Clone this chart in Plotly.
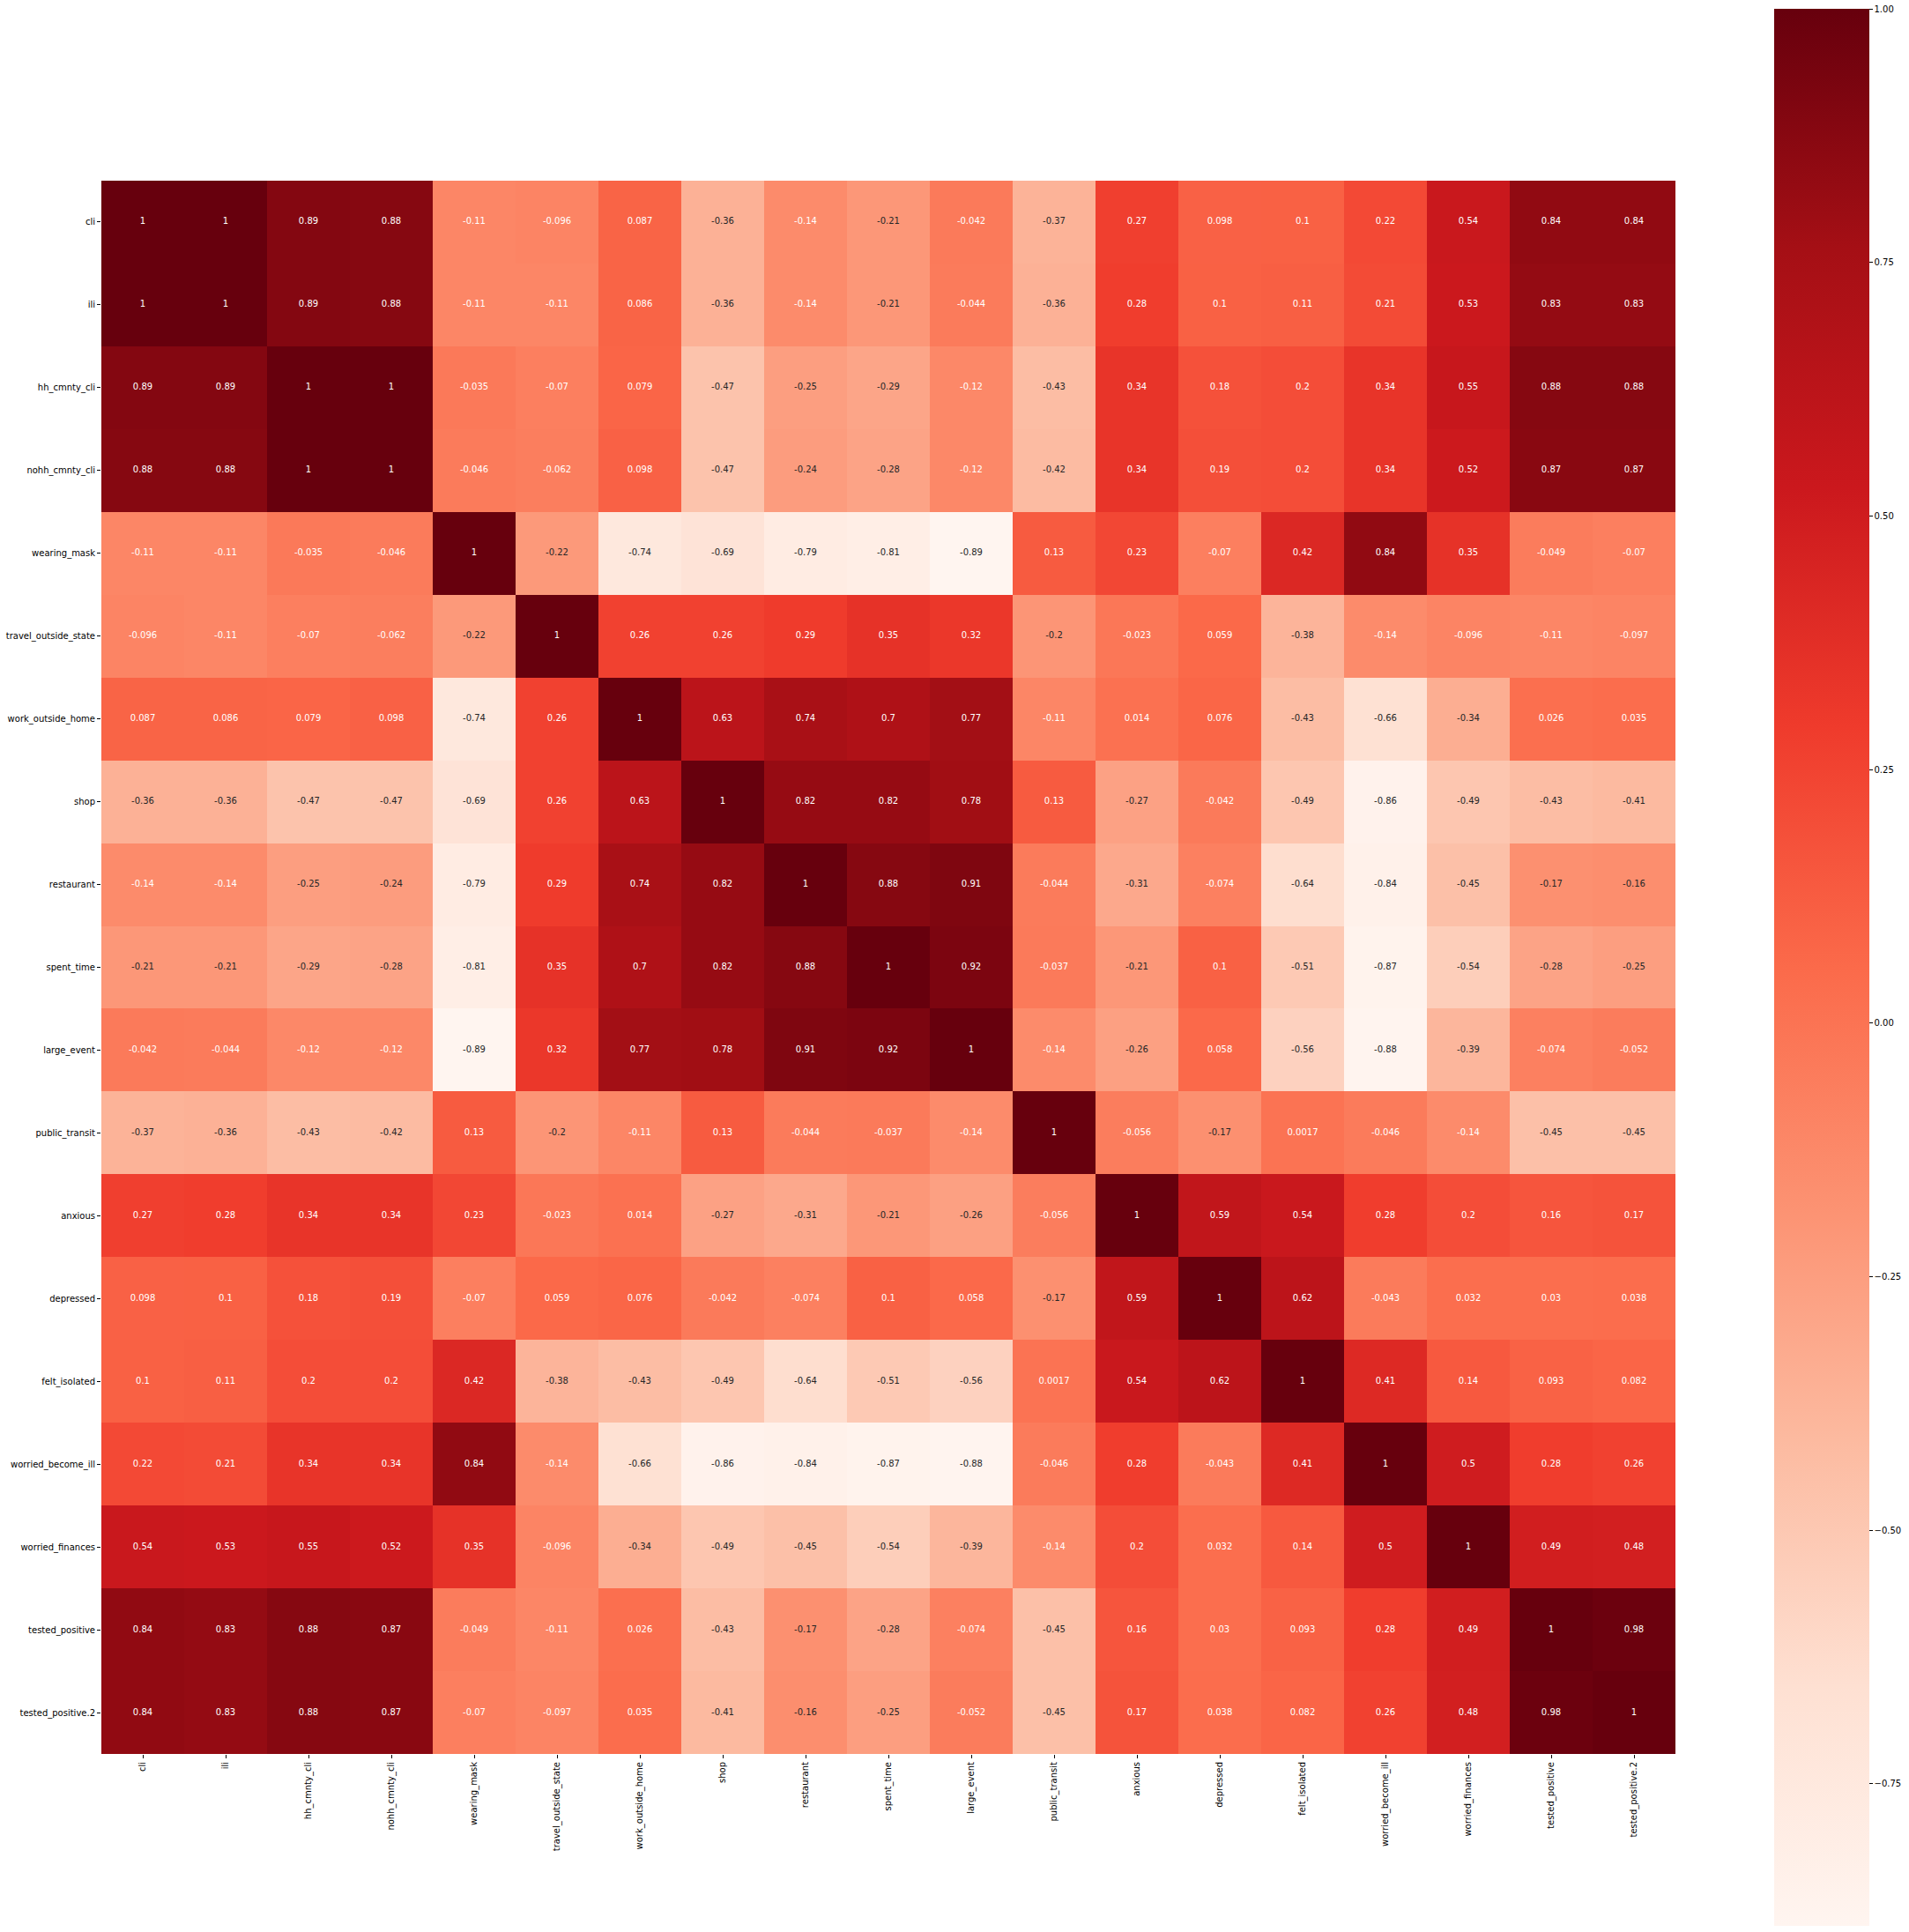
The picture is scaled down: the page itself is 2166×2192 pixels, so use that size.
import plotly.graph_objects as go
import numpy as np

labels = ["cli", "ili", "hh_cmnty_cli", "nohh_cmnty_cli", "wearing_mask", "travel_outside_state",
          "work_outside_home", "shop", "restaurant", "spent_time", "large_event", "public_transit",
          "anxious", "depressed", "felt_isolated", "worried_become_ill", "worried_finances",
          "tested_positive", "tested_positive.2"]

row_cli = [1, 1, 0.89, 0.88, -0.11, -0.096, 0.087, -0.36, -0.14, -0.21, -0.042, -0.37, 0.27, 0.098, 0.1, 0.22, 0.54, 0.84, 0.84]
row_ili = [1, 1, 0.89, 0.88, -0.11, -0.11, 0.086, -0.36, -0.14, -0.21, -0.044, -0.36, 0.28, 0.1, 0.11, 0.21, 0.53, 0.83, 0.83]
row_hh = [0.89, 0.89, 1, 1, -0.035, -0.07, 0.079, -0.47, -0.25, -0.29, -0.12, -0.43, 0.34, 0.18, 0.2, 0.34, 0.55, 0.88, 0.88]
row_nohh = [0.88, 0.88, 1, 1, -0.046, -0.062, 0.098, -0.47, -0.24, -0.28, -0.12, -0.42, 0.34, 0.19, 0.2, 0.34, 0.52, 0.87, 0.87]
row_mask = [-0.11, -0.11, -0.035, -0.046, 1, -0.22, -0.74, -0.69, -0.79, -0.81, -0.89, 0.13, 0.23, -0.07, 0.42, 0.84, 0.35, -0.049, -0.07]
row_travel = [-0.096, -0.11, -0.07, -0.062, -0.22, 1, 0.26, 0.26, 0.29, 0.35, 0.32, -0.2, -0.023, 0.059, -0.38, -0.14, -0.096, -0.11, -0.097]
row_work = [0.087, 0.086, 0.079, 0.098, -0.74, 0.26, 1, 0.63, 0.74, 0.7, 0.77, -0.11, 0.014, 0.076, -0.43, -0.66, -0.34, 0.026, 0.035]
row_shop = [-0.36, -0.36, -0.47, -0.47, -0.69, 0.26, 0.63, 1, 0.82, 0.82, 0.78, 0.13, -0.27, -0.042, -0.49, -0.86, -0.49, -0.43, -0.41]
row_restaurant = [-0.14, -0.14, -0.25, -0.24, -0.79, 0.29, 0.74, 0.82, 1, 0.88, 0.91, -0.044, -0.31, -0.074, -0.64, -0.84, -0.45, -0.17, -0.16]
row_spent = [-0.21, -0.21, -0.29, -0.28, -0.81, 0.35, 0.7, 0.82, 0.88, 1, 0.92, -0.037, -0.21, 0.1, -0.51, -0.87, -0.54, -0.28, -0.25]
row_large = [-0.042, -0.044, -0.12, -0.12, -0.89, 0.32, 0.77, 0.78, 0.91, 0.92, 1, -0.14, -0.26, 0.058, -0.56, -0.88, -0.39, -0.074, -0.052]
row_transit = [-0.37, -0.36, -0.43, -0.42, 0.13, -0.2, -0.11, 0.13, -0.044, -0.037, -0.14, 1, -0.056, -0.17, 0.0017, -0.046, -0.14, -0.45, -0.45]
row_anxious = [0.27, 0.28, 0.34, 0.34, 0.23, -0.023, 0.014, -0.27, -0.31, -0.21, -0.26, -0.056, 1, 0.59, 0.54, 0.28, 0.2, 0.16, 0.17]
row_depressed = [0.098, 0.1, 0.18, 0.19, -0.07, 0.059, 0.076, -0.042, -0.074, 0.1, 0.058, -0.17, 0.59, 1, 0.62, -0.043, 0.032, 0.03, 0.038]
row_isolated = [0.1, 0.11, 0.2, 0.2, 0.42, -0.38, -0.43, -0.49, -0.64, -0.51, -0.56, 0.0017, 0.54, 0.62, 1, 0.41, 0.14, 0.093, 0.082]
row_ill = [0.22, 0.21, 0.34, 0.34, 0.84, -0.14, -0.66, -0.86, -0.84, -0.87, -0.88, -0.046, 0.28, -0.043, 0.41, 1, 0.5, 0.28, 0.26]
row_finances = [0.54, 0.53, 0.55, 0.52, 0.35, -0.096, -0.34, -0.49, -0.45, -0.54, -0.39, -0.14, 0.2, 0.032, 0.14, 0.5, 1, 0.49, 0.48]
row_tp = [0.84, 0.83, 0.88, 0.87, -0.049, -0.11, 0.026, -0.43, -0.17, -0.28, -0.074, -0.45, 0.16, 0.03, 0.093, 0.28, 0.49, 1, 0.98]
row_tp2 = [0.84, 0.83, 0.88, 0.87, -0.07, -0.097, 0.035, -0.41, -0.16, -0.25, -0.052, -0.45, 0.17, 0.038, 0.082, 0.26, 0.48, 0.98, 1]

z = [row_cli, row_ili, row_hh, row_nohh, row_mask, row_travel, row_work, row_shop, row_restaurant,
     row_spent, row_large, row_transit, row_anxious, row_depressed, row_isolated, row_ill,
     row_finances, row_tp, row_tp2]

cbar_ticks = [-0.75, -0.5, -0.25, 0.0, 0.25, 0.5, 0.75, 1.0]

reds_hex = ["#fff5f0", "#fee0d2", "#fcbba1", "#fc9272", "#fb6a4a", "#ef3b2c", "#cb181d", "#a50f15", "#67000d"]
n = len(reds_hex)
colorscale = [[i / (n - 1), c] for i, c in enumerate(reds_hex)]

zarr = np.array(z, dtype=float)
zmin = float(zarr.min())
zmax = float(zarr.max())

rgb = np.array([[int(c[1:3], 16), int(c[3:5], 16), int(c[5:7], 16)] for c in reds_hex], dtype=float)
stops = np.linspace(0, 1, n)


def cell_color(v):
    t = (v - zmin) / (zmax - zmin)
    return [np.interp(t, stops, rgb[:, k]) for k in range(3)]


def lum(c):
    out = []
    for ch in c:
        ch = ch / 255.0
        out.append(ch / 12.92 if ch <= 0.03928 else ((ch + 0.055) / 1.055) ** 2.4)
    return 0.2126 * out[0] + 0.7152 * out[1] + 0.0722 * out[2]


tx, ty, tt, tc = [], [], [], []
for i, rlab in enumerate(labels):
    for j, clab in enumerate(labels):
        v = z[i][j]
        tx.append(clab)
        ty.append(rlab)
        tt.append(format(v, ".2g"))
        tc.append("#262626" if lum(cell_color(v)) > 0.408 else "#ffffff")


def fmt_tick(v):
    s = "%.2f" % v
    return s.replace("-", "\u2212")


FONT = "DejaVu Sans"
W, H = 2166, 2192
ML, MR, MT, MB = 115, 265, 205, 202
cb_top, cb_bottom = 10, 2185
plot_h = H - MT - MB
cb_center_paper = ((H - MB) - (cb_top + cb_bottom) / 2) / plot_h

fig = go.Figure()
fig.add_trace(go.Heatmap(
    z=z, x=labels, y=labels, colorscale=colorscale, zmin=zmin, zmax=zmax,
    hoverinfo="skip",
    colorbar=dict(
        xref="container",
        x=2013 / W, xanchor="left", xpad=0,
        y=cb_center_paper, yanchor="middle", ypad=0,
        len=cb_bottom - cb_top, lenmode="pixels",
        thickness=108, thicknessmode="pixels",
        outlinewidth=0,
        tickvals=cbar_ticks, ticktext=[fmt_tick(v) for v in cbar_ticks],
        ticks="outside", ticklen=4, tickwidth=1, tickcolor="#000000",
        tickfont=dict(family=FONT, size=10, color="#000000"),
    ),
))
fig.add_trace(go.Scatter(
    x=tx, y=ty, text=tt, mode="text",
    textfont=dict(family=FONT, size=10, color=tc),
    hoverinfo="skip", showlegend=False, cliponaxis=False,
))

nlab = len(labels)
fig.update_layout(
    width=W, height=H,
    margin=dict(l=ML, r=MR, t=MT, b=MB, autoexpand=False),
    paper_bgcolor="white", plot_bgcolor="white",
    font=dict(family=FONT, size=10, color="#000000"),
    showlegend=False,
)
fig.update_xaxes(
    type="category", categoryorder="array", categoryarray=labels,
    range=[-0.5, nlab - 0.5], autorange=False,
    tickangle=-90, ticks="outside", ticklen=4, tickwidth=1, tickcolor="#000000",
    showgrid=False, zeroline=False, showline=False,
    tickfont=dict(family=FONT, size=10, color="#000000"),
)
fig.update_yaxes(
    type="category", categoryorder="array", categoryarray=labels,
    range=[nlab - 0.5, -0.5], autorange=False,
    ticks="outside", ticklen=4, tickwidth=1, tickcolor="#000000",
    showgrid=False, zeroline=False, showline=False,
    tickfont=dict(family=FONT, size=10, color="#000000"),
)

fig.write_html("out.html")
